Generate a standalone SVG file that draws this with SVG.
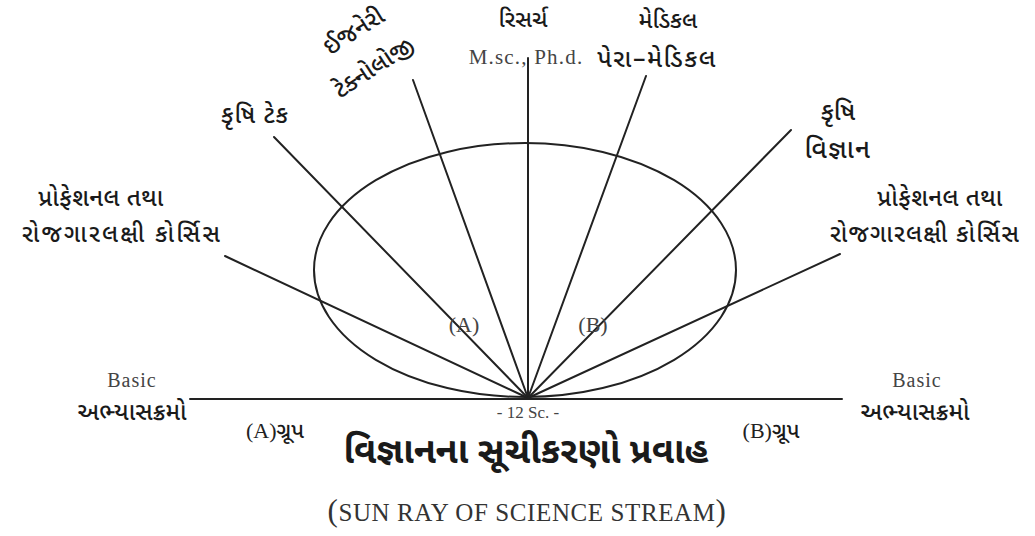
<svg xmlns="http://www.w3.org/2000/svg" width="1035" height="536" viewBox="0 0 1035 536">
<style>
.g{font-family:"Noto Sans Gujarati","Noto Sans","Lato",sans-serif;font-size:25px;fill:#1a1a1a;text-anchor:middle;font-weight:500}
.s{font-family:"Liberation Serif","DejaVu Serif",serif;font-size:20px;fill:#444;text-anchor:middle}
.ln{stroke:#222;stroke-width:2;fill:none;stroke-linecap:round}
.title{font-size:36px;font-weight:700}
.p{font-size:24px}
</style>
<rect width="1035" height="536" fill="#fff"/>
<g id="connectors">
<ellipse class="ln" cx="525" cy="270" rx="211" ry="127"/>
<line class="ln" x1="190" y1="399" x2="842" y2="399"/>
<line class="ln" x1="528" y1="398" x2="225" y2="256"/>
<line class="ln" x1="528" y1="398" x2="274" y2="137"/>
<line class="ln" x1="528" y1="398" x2="413" y2="80"/>
<line class="ln" x1="528" y1="398" x2="528" y2="58"/>
<line class="ln" x1="528" y1="398" x2="646" y2="76"/>
<line class="ln" x1="528" y1="398" x2="791" y2="130"/>
<line class="ln" x1="528" y1="398" x2="840" y2="254"/>
</g>
<g id="research">
<text class="g" x="523" y="27" style="font-size:23px">રિસર્ચ</text>
<text class="s" x="526" y="64" style="font-size:21px;letter-spacing:1.2px">M.sc., Ph.d.</text>
</g>
<g id="medical">
<text class="g" x="668" y="28" style="font-size:23px">મેડિકલ</text>
<text class="g" x="657" y="67" style="letter-spacing:1.5px">પેરા–મેડિકલ</text>
</g>
<g id="engineering">
<text class="g" transform="translate(358,38) rotate(-32)" style="font-size:24px">ઈજનેરી</text>
<text class="g" transform="translate(378,74) rotate(-33)" style="font-size:24px">ટેક્નોલોજી</text>
</g>
<g id="agritech">
<text class="g" x="255" y="123" style="font-size:24px;letter-spacing:1px">કૃષિ ટેક</text>
</g>
<g id="agriscience">
<text class="g" x="838" y="120">કૃષિ</text>
<text class="g" x="838" y="158" style="font-size:26px;letter-spacing:1.5px">વિજ્ઞાન</text>
</g>
<g id="prof-left">
<text class="g p" x="101" y="206" style="letter-spacing:0.5px">પ્રોફેશનલ તથા</text>
<text class="g p" x="122" y="242" style="letter-spacing:2.2px">રોજગારલક્ષી કોર્સિસ</text>
</g>
<g id="prof-right">
<text class="g p" x="940" y="206" style="letter-spacing:0.5px">પ્રોફેશનલ તથા</text>
<text class="g p" x="925" y="242" style="letter-spacing:1.2px">રોજગારલક્ષી કોર્સિસ</text>
</g>
<g id="group-labels">
<text class="s" x="464" y="332" style="font-size:22px">(A)</text>
<text class="s" x="593" y="332" style="font-size:22px">(B)</text>
</g>
<g id="basic-left">
<text class="s" x="132" y="387" style="letter-spacing:1px">Basic</text>
<text class="g" x="132" y="420" style="font-size:24px">અભ્યાસક્રમો</text>
</g>
<g id="basic-right">
<text class="s" x="917" y="387" style="letter-spacing:1px">Basic</text>
<text class="g" x="915" y="420" style="font-size:24px">અભ્યાસક્રમો</text>
</g>
<g id="groups">
<text class="g" x="275" y="438" style="font-size:22px"><tspan class="s" style="fill:#222;font-size:22px">(A)</tspan>ગ્રૂપ</text>
<text class="g" x="771" y="438" style="font-size:22px"><tspan class="s" style="fill:#222;font-size:22px">(B)</tspan>ગ્રૂપ</text>
<text class="s" x="528" y="418" style="font-size:17px">- 12 Sc. -</text>
</g>
<g id="title">
<text class="g title" x="526" y="463">વિજ્ઞાનના સૂચીકરણો પ્રવાહ</text>
<text class="s" x="527" y="521" style="font-size:25px;fill:#333;letter-spacing:0.6px"><tspan style="font-size:31px">(</tspan>SUN RAY OF SCIENCE STREAM<tspan style="font-size:31px">)</tspan></text>
</g>
</svg>
